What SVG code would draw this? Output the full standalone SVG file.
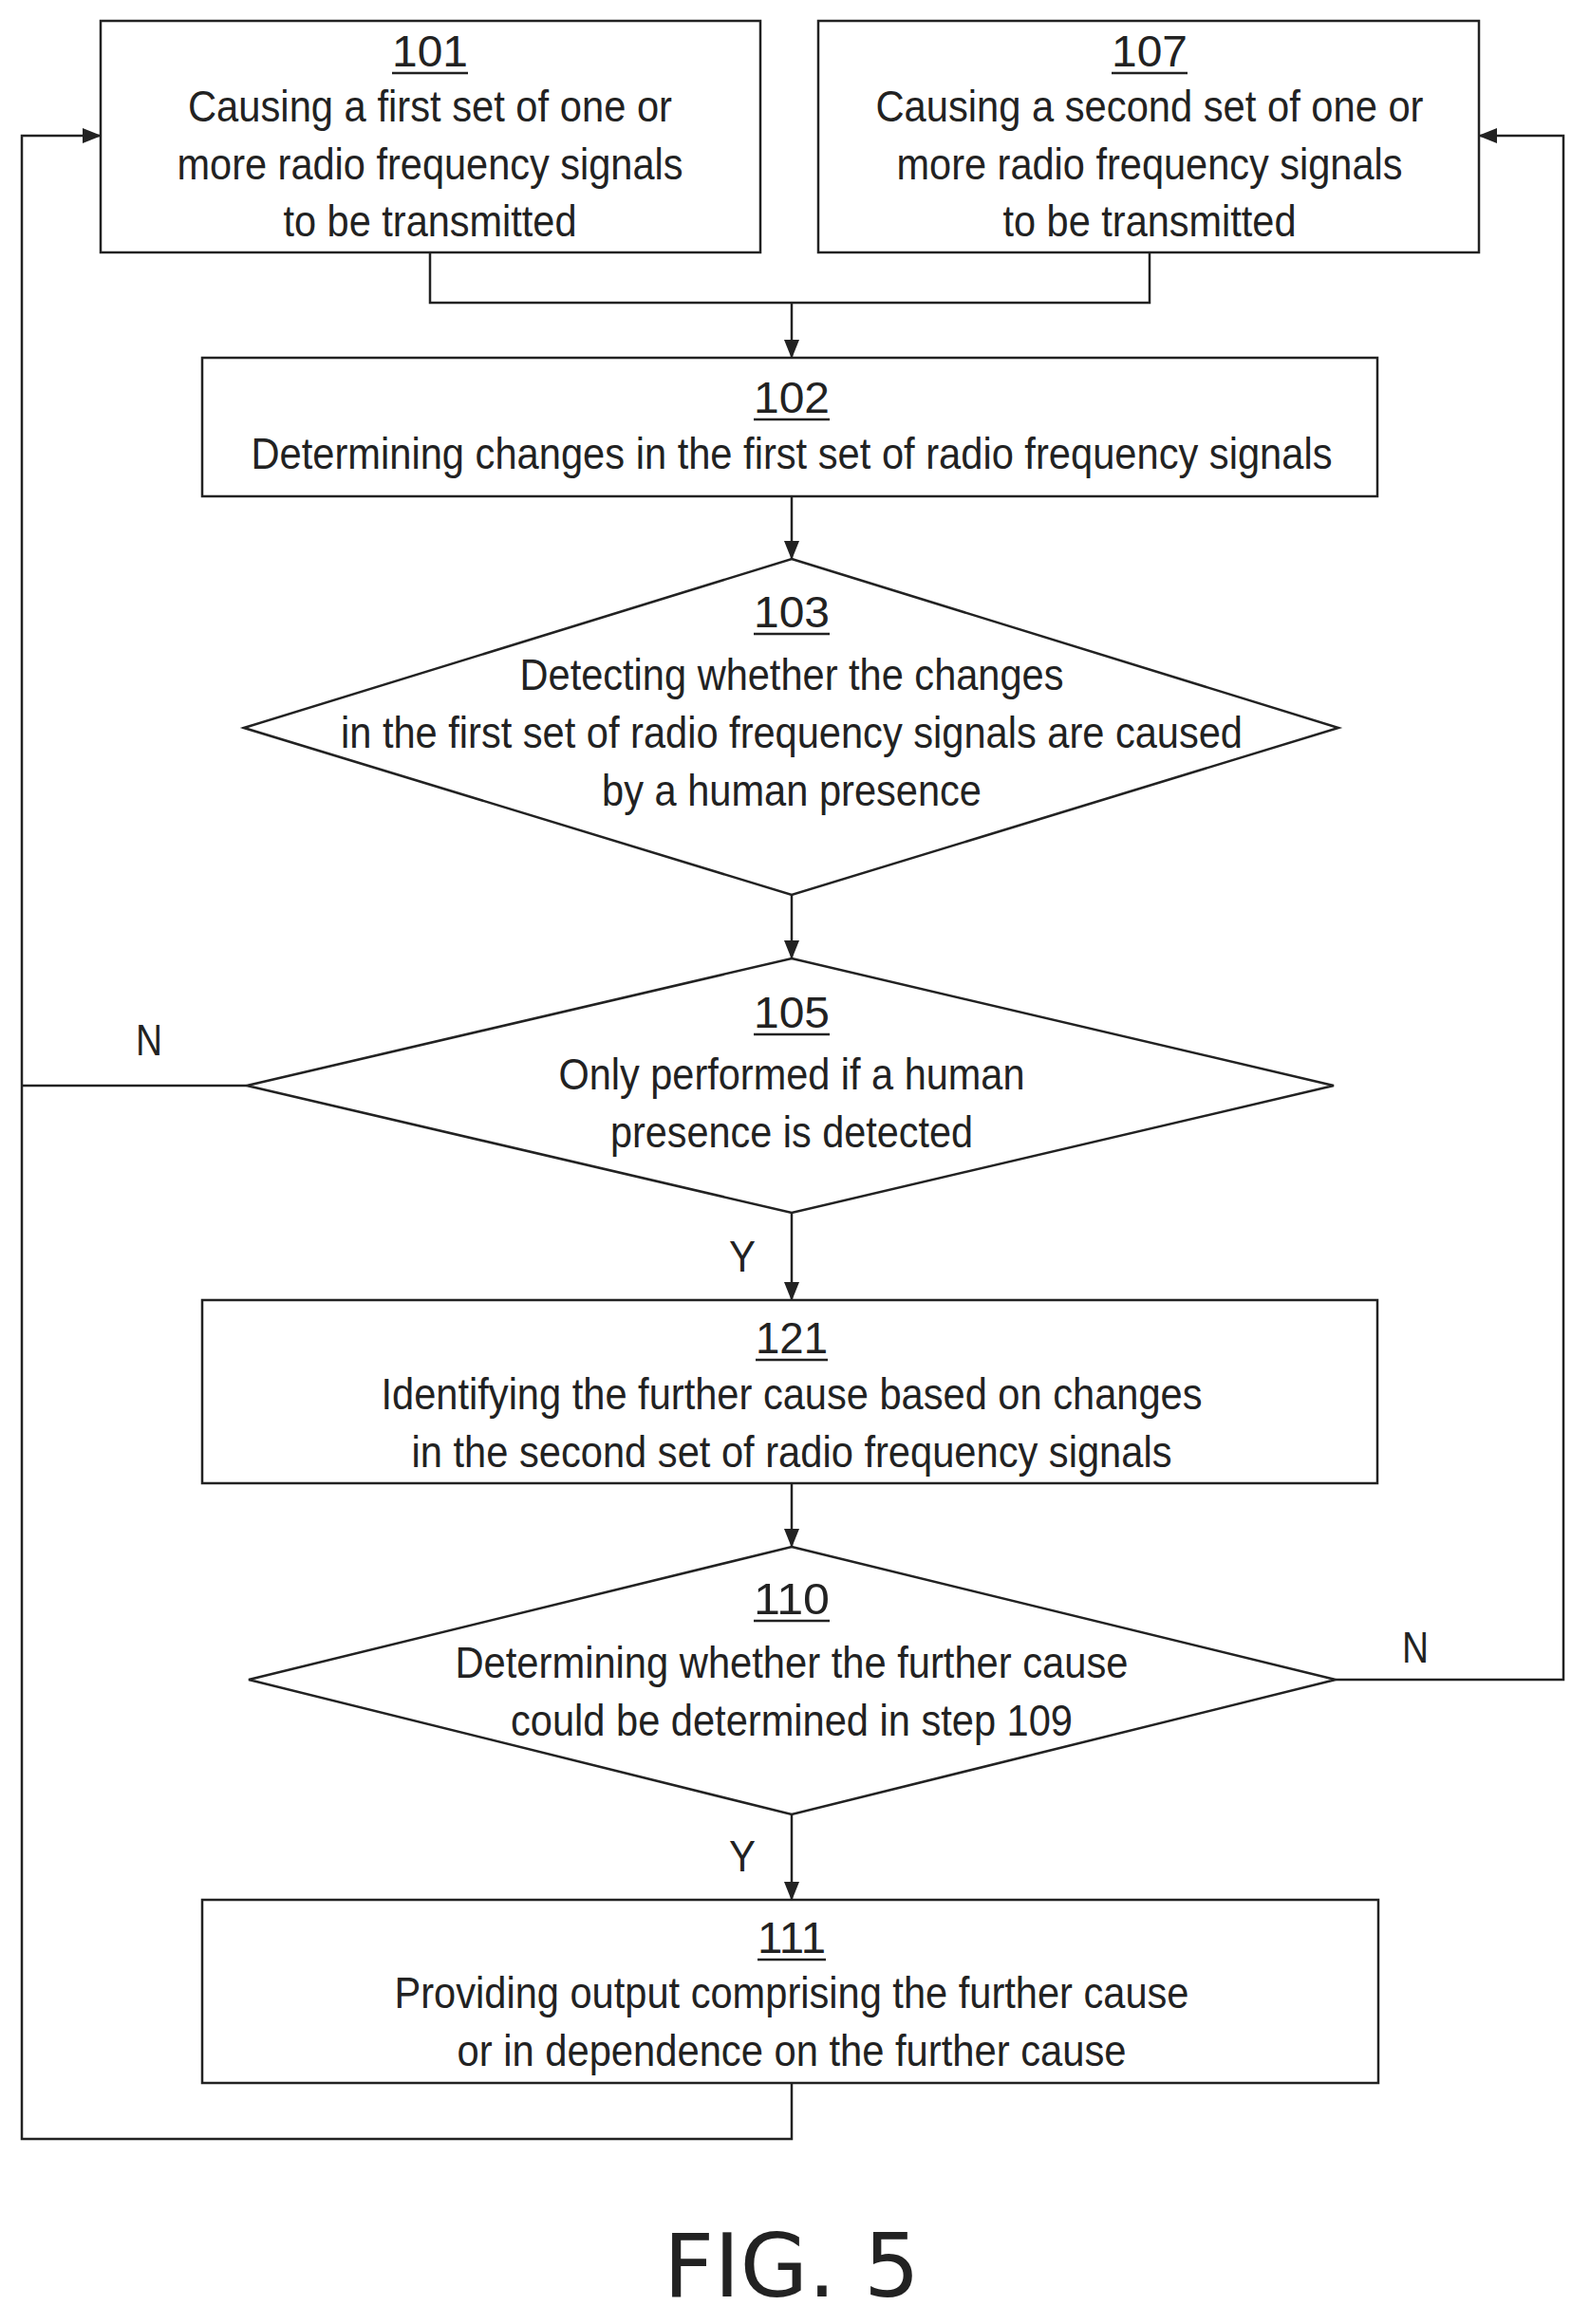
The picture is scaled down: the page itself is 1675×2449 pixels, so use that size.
<svg xmlns="http://www.w3.org/2000/svg" width="1675" height="2449" viewBox="0 0 1675 2449">
<style>
.s{fill:none;stroke:#222;stroke-width:2.5}
text{font-family:"Liberation Sans",Arial,sans-serif;font-size:46px;fill:#222;text-anchor:middle}
.u{stroke:#222;stroke-width:2.5}
</style>
<defs><marker id="a" markerWidth="20" markerHeight="16" refX="19" refY="8" orient="auto" markerUnits="userSpaceOnUse"><path d="M0,0 L20,8 L0,16 Z" fill="#222"/></marker></defs>
<rect width="1675" height="2449" fill="#fff"/>
<g id="connectors" class="s" marker-end="url(#a)">
<path d="M453,266 V319 H1211 V266" marker-end="none"/>
<path d="M834,319 V377"/>
<path d="M834,523 V589"/>
<path d="M834,943 V1010"/>
<path d="M834,1278 V1370"/>
<path d="M834,1563 V1630"/>
<path d="M834,1912 V2002"/>
<path d="M834,2195 V2254 H23 V143 H106"/>
<path d="M260,1144 H23" marker-end="none"/>
<path d="M1407,1770 H1647 V143 H1558"/>
</g>
<g id="labels">
<text x="157" y="1112" textLength="28" lengthAdjust="spacingAndGlyphs">N</text>
<text x="782" y="1340" textLength="28" lengthAdjust="spacingAndGlyphs">Y</text>
<text x="1491" y="1752" textLength="28" lengthAdjust="spacingAndGlyphs">N</text>
<text x="782" y="1972" textLength="28" lengthAdjust="spacingAndGlyphs">Y</text>
</g>
<g id="n101"><rect class="s" x="106" y="22" width="695" height="244"/>
<text x="453" y="70" textLength="80" lengthAdjust="spacingAndGlyphs">101</text><line class="u" x1="413" y1="77" x2="493" y2="77"/>
<text x="453" y="128" textLength="510" lengthAdjust="spacingAndGlyphs">Causing a first set of one or</text>
<text x="453" y="189" textLength="533" lengthAdjust="spacingAndGlyphs">more radio frequency signals</text>
<text x="453" y="249" textLength="309" lengthAdjust="spacingAndGlyphs">to be transmitted</text></g>
<g id="n107"><rect class="s" x="862" y="22" width="696" height="244"/>
<text x="1211" y="70" textLength="80" lengthAdjust="spacingAndGlyphs">107</text><line class="u" x1="1171" y1="77" x2="1251" y2="77"/>
<text x="1211" y="128" textLength="577" lengthAdjust="spacingAndGlyphs">Causing a second set of one or</text>
<text x="1211" y="189" textLength="533" lengthAdjust="spacingAndGlyphs">more radio frequency signals</text>
<text x="1211" y="249" textLength="309" lengthAdjust="spacingAndGlyphs">to be transmitted</text></g>
<g id="n102"><rect class="s" x="213" y="377" width="1238" height="146"/>
<text x="834" y="435" textLength="80" lengthAdjust="spacingAndGlyphs">102</text><line class="u" x1="794" y1="442" x2="874" y2="442"/>
<text x="834" y="494" textLength="1139" lengthAdjust="spacingAndGlyphs">Determining changes in the first set of radio frequency signals</text></g>
<g id="n103"><polygon class="s" points="834,589 1410,767 834,943 257,767"/>
<text x="834" y="661" textLength="80" lengthAdjust="spacingAndGlyphs">103</text><line class="u" x1="794" y1="668" x2="874" y2="668"/>
<text x="834" y="727" textLength="573" lengthAdjust="spacingAndGlyphs">Detecting whether the changes</text>
<text x="834" y="788" textLength="950" lengthAdjust="spacingAndGlyphs">in the first set of radio frequency signals are caused</text>
<text x="834" y="849" textLength="400" lengthAdjust="spacingAndGlyphs">by a human presence</text></g>
<g id="n105"><polygon class="s" points="834,1010 1405,1144 834,1278 260,1144"/>
<text x="834" y="1083" textLength="80" lengthAdjust="spacingAndGlyphs">105</text><line class="u" x1="794" y1="1090" x2="874" y2="1090"/>
<text x="834" y="1148" textLength="491" lengthAdjust="spacingAndGlyphs">Only performed if a human</text>
<text x="834" y="1209" textLength="382" lengthAdjust="spacingAndGlyphs">presence is detected</text></g>
<g id="n121"><rect class="s" x="213" y="1370" width="1238" height="193"/>
<text x="834" y="1426" textLength="76" lengthAdjust="spacingAndGlyphs">121</text><line class="u" x1="796" y1="1433" x2="872" y2="1433"/>
<text x="834" y="1485" textLength="865" lengthAdjust="spacingAndGlyphs">Identifying the further cause based on changes</text>
<text x="834" y="1546" textLength="801" lengthAdjust="spacingAndGlyphs">in the second set of radio frequency signals</text></g>
<g id="n110"><polygon class="s" points="834,1630 1407,1770 834,1912 262,1770"/>
<text x="834" y="1701" textLength="80" lengthAdjust="spacingAndGlyphs">110</text><line class="u" x1="794" y1="1708" x2="874" y2="1708"/>
<text x="834" y="1768" textLength="709" lengthAdjust="spacingAndGlyphs">Determining whether the further cause</text>
<text x="834" y="1829" textLength="592" lengthAdjust="spacingAndGlyphs">could be determined in step 109</text></g>
<g id="n111"><rect class="s" x="213" y="2002" width="1239" height="193"/>
<text x="834" y="2058" textLength="72" lengthAdjust="spacingAndGlyphs">111</text><line class="u" x1="798" y1="2065" x2="870" y2="2065"/>
<text x="834" y="2116" textLength="837" lengthAdjust="spacingAndGlyphs">Providing output comprising the further cause</text>
<text x="834" y="2177" textLength="705" lengthAdjust="spacingAndGlyphs">or in dependence on the further cause</text></g>
<text x="834" y="2420" style="font-family:'DejaVu Sans',sans-serif;font-size:92px" textLength="270" lengthAdjust="spacingAndGlyphs">FIG. 5</text>
</svg>
